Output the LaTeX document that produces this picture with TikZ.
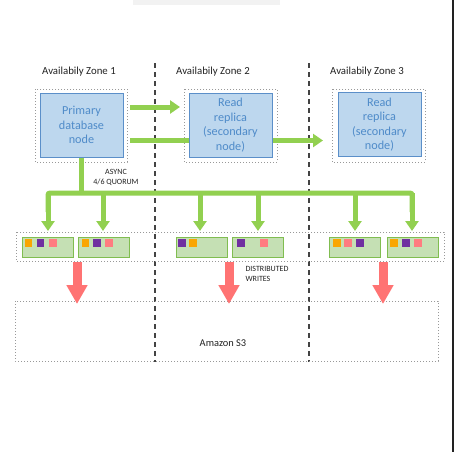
\documentclass[tikz,border=0pt]{standalone}
\usepackage{fontspec}
\setmainfont{Carlito}
\usetikzlibrary{arrows.meta}
\definecolor{bfill}{HTML}{BDD7EE}
\definecolor{bdraw}{HTML}{5B8FC9}
\definecolor{btext}{HTML}{4F8BC9}
\definecolor{garrow}{HTML}{92D050}
\definecolor{gfill}{HTML}{C5E0B4}
\definecolor{gdraw}{HTML}{80BD50}
\definecolor{sqo}{HTML}{F9A602}
\definecolor{sqp}{HTML}{7030A0}
\definecolor{sqr}{HTML}{FF7C80}
\definecolor{rarrow}{HTML}{FF7373}
\definecolor{ink}{HTML}{222222}
\tikzset{
  dbnode/.style={draw=bdraw, fill=bfill, line width=1pt, minimum width=83pt, minimum height=64pt,
    inner sep=0pt, align=center, text=btext, font=\fontsize{12.2}{14.5}\selectfont},
  dotbox/.style={draw=gray!80, line width=0.9pt, dash pattern=on 0.9pt off 2.1pt},
  zonelabel/.style={text=ink, font=\fontsize{10.8}{12}\selectfont},
  smalllabel/.style={text=ink, font=\fontsize{8}{9.5}\selectfont},
  zoneline/.style={draw=ink!85, line width=1.5pt, dash pattern=on 5pt off 4pt},
  garr/.style={draw=garrow, line width=5pt, -{Triangle[length=10pt,width=13pt]}},
  gline/.style={draw=garrow, line width=5pt},
  rarr/.style={draw=rarrow, line width=9pt, -{Triangle[length=19pt,width=20pt]}},
  stor/.style={draw=gdraw, fill=gfill, line width=1pt, minimum width=51pt, minimum height=20pt, inner sep=0pt},
  sq/.style={minimum size=7.5pt, inner sep=0pt},
  sqor/.style={sq, fill=sqo},
  sqpu/.style={sq, fill=sqp},
  sqpk/.style={sq, fill=sqr},
}
\begin{document}
\begin{tikzpicture}[x=1pt,y=-1pt]
\useasboundingbox (0,0) rectangle (454,452);
\fill[white] (0,0) rectangle (454,452);
\fill[gray!10] (133,0) rectangle (280,5);
\fill[ink] (452,0) rectangle (454,452);

% zone separators
\coordinate (z1top) at (155,63);
\coordinate (z1bot) at (155,362);
\coordinate (z2top) at (309,63);
\coordinate (z2bot) at (309,362);
\draw[zoneline] (z1top) -- (z1bot);
\draw[zoneline] (z2top) -- (z2bot);

% zone labels
\node[zonelabel] (lab1) at (79,72) {Availabily Zone 1};
\node[zonelabel] (lab2) at (213,72) {Availabily Zone 2};
\node[zonelabel] (lab3) at (367,72) {Availabily Zone 3};

% outer dotted boxes
\draw[dotbox] (35,89) rectangle (127,162);
\draw[dotbox] (184,89) rectangle (277,162);
\draw[dotbox] (332,89) rectangle (425,162);

% database nodes
\node[dbnode] (prim) at (81.5,125) {Primary\\database\\node};
\node[dbnode] (rep2) at (230.5,125) {Read\\replica\\(secondary\\node)};
\node[dbnode] (rep3) at (379.5,124.5) {Read\\replica\\(secondary\\node)};

% replication arrows
\coordinate (a1s) at (130,107);
\coordinate (a1e) at (180,107);
\coordinate (a2s) at (130,140.5);
\coordinate (a3e) at (323,140.5);
\draw[garr] (a1s) -- (a1e);
\draw[gline] (a2s) -- (rep2.west |- a2s);
\draw[garr] (rep2.east |- a3e) -- (a3e);

% storage row
\draw[dotbox] (16,232) rectangle (444,261);
\node[stor] (s1) at (47.5,247) {};
\node[stor] (s2) at (103.5,247) {};
\node[stor] (s3) at (201.5,247) {};
\node[stor] (s4) at (257.5,247) {};
\node[stor] (s5) at (354.5,247) {};
\node[stor] (s6) at (412.5,247) {};

% quorum tree
\coordinate (trunk) at (81.7,193);
\coordinate (hl) at (48,193);
\coordinate (hr) at (412,193);
\draw[gline] (prim.south -| trunk) -- (trunk);
\draw[gline, rounded corners=2pt] (48,212) -- (hl) -- (hr) -- (412,212);
\foreach \x in {48,103,200,258,355,412}{
  \draw[garr] (\x,193) -- (\x,231);
}

\node[smalllabel, align=center] (async) at (116,177.5) {ASYNC\\4/6 QUORUM};

% squares
\node[sqor] (q11) at (28.5,243) {};
\node[sqpu] (q12) at (40.5,243) {};
\node[sqpk] (q13) at (53,243) {};
\node[sqor] (q21) at (85.5,243) {};
\node[sqpu] (q22) at (97,243) {};
\node[sqpk] (q23) at (109,243) {};
\node[sqpu] (q31) at (182,243) {};
\node[sqor] (q32) at (193,243) {};
\node[sqpu] (q41) at (241,243) {};
\node[sqpk] (q42) at (264,243) {};
\node[sqor] (q51) at (337,243) {};
\node[sqpk] (q52) at (348,243) {};
\node[sqpu] (q53) at (360,243) {};
\node[sqor] (q61) at (394,243) {};
\node[sqpu] (q62) at (406,243) {};
\node[sqpk] (q63) at (418,243) {};

% S3
\draw[dotbox] (15,301) rectangle (438,361);
\node[text=ink, font=\fontsize{10.4}{12}\selectfont] (s3lab) at (223,343) {Amazon S3};

% red arrows
\coordinate (r1) at (77,304);
\coordinate (r2) at (229,304);
\coordinate (r3) at (383,304);
\draw[rarr] (77,262) -- (r1);
\draw[rarr] (229,262) -- (r2);
\draw[rarr] (383,262) -- (r3);

\node[smalllabel, align=left, anchor=west] (dw) at (242,274) {DISTRIBUTED\\WRITES};
\end{tikzpicture}
\end{document}
